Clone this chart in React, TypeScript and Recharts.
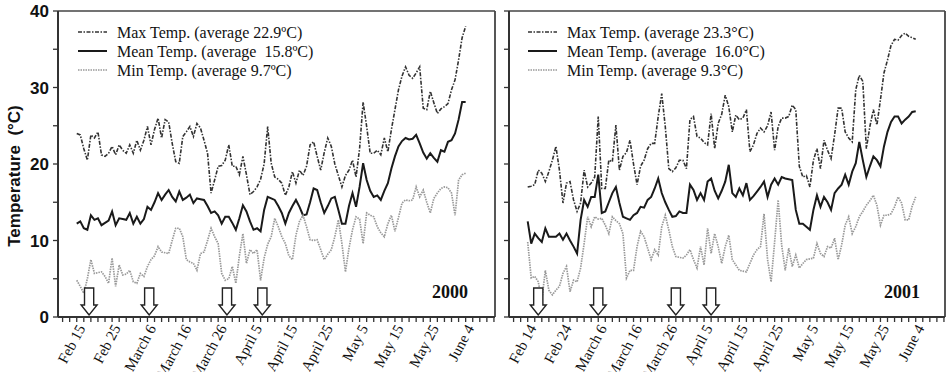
import {
  ComposedChart,
  Line,
  XAxis,
  YAxis,
  Scatter,
  ReferenceLine,
  Legend,
  Customized,
} from "recharts";

// daily values, day 0 = first date on the axis
const MAX_2000 = [
  24.0, 23.8, 22.0, 20.5, 23.8, 23.4, 24.2, 21.2, 21.0, 21.4,
  22.3, 21.2, 22.5, 21.8, 21.4, 22.5, 21.4, 23.1, 21.8, 23.1,
  24.9, 22.5, 24.5, 26.0, 23.4, 25.8, 25.5, 22.7, 20.3, 20.1,
  23.6, 24.2, 24.9, 23.6, 25.3, 24.7, 23.1, 21.4, 16.2, 17.9,
  19.7, 19.8, 20.5, 22.5, 19.7, 19.7, 18.6, 21.0, 18.6, 16.0,
  16.4, 17.0, 18.0, 20.0, 24.9, 20.1, 18.3, 18.0, 17.5, 15.9,
  17.0, 19.0, 17.5, 19.2, 18.5, 19.7, 22.5, 22.9, 21.0, 19.2,
  21.5, 23.4, 22.3, 20.0, 18.5, 17.0, 18.5, 19.2, 20.5, 18.3,
  22.0, 28.1, 24.9, 21.4, 21.4, 21.8, 21.2, 23.4, 21.6, 24.5,
  27.1, 29.7, 31.5, 32.7, 31.6, 31.2, 31.9, 32.7, 27.3, 27.1,
  29.5, 28.0, 26.6, 27.2, 27.5, 27.9, 29.7, 31.0, 33.6, 36.5, 38.0,
];
const MEAN_2000 = [
  12.2, 12.5, 11.6, 11.4, 13.3, 12.7, 12.9, 12.0, 12.3, 12.6,
  13.8, 12.0, 12.9, 12.8, 12.7, 13.6, 12.2, 13.1, 12.2, 12.8,
  14.4, 14.0, 15.0, 16.2, 15.3, 16.0, 16.6, 15.7, 15.1, 16.4,
  15.3, 15.6, 16.0, 14.9, 15.5, 15.4, 15.3, 14.5, 13.6, 13.8,
  13.3, 12.2, 13.1, 13.1, 12.3, 11.4, 12.9, 14.6, 13.8, 12.5,
  11.4, 11.6, 11.2, 14.0, 15.7, 15.5, 15.3, 14.5, 13.6, 12.2,
  13.6, 14.5, 15.3, 14.4, 13.3, 13.4, 15.0, 16.8, 16.6, 15.0,
  13.6, 14.5, 15.5, 15.7, 14.0, 12.2, 12.2, 14.5, 16.2, 14.4,
  17.0, 20.1, 17.9, 16.5, 15.7, 15.9, 15.3, 16.5, 17.5, 19.4,
  21.0, 22.3, 23.0, 23.4, 23.2, 23.3, 23.8, 22.7, 21.5, 20.7,
  21.4, 20.8, 20.3, 21.8, 21.6, 22.9, 23.1, 24.0, 25.8, 28.1, 28.1,
];
const MIN_2000 = [
  4.8, 4.0, 3.1, 5.0, 7.5, 5.7, 5.8, 5.9, 5.3, 4.4,
  7.7, 4.0, 6.8, 5.5, 5.6, 6.1, 4.6, 4.4, 5.7, 5.3,
  6.6, 7.5, 8.0, 9.2, 8.5, 8.4, 8.3, 10.0, 11.6, 11.6,
  10.5, 7.5, 7.2, 7.0, 6.1, 8.3, 8.5, 10.0, 11.6, 10.5,
  9.6, 5.7, 4.8, 5.0, 6.6, 4.4, 8.0, 10.9, 7.0, 8.8,
  8.3, 8.8, 4.8, 7.7, 9.5, 10.5, 12.9, 11.8, 10.5, 9.6,
  8.0, 7.5, 10.7, 12.5, 13.3, 11.8, 10.1, 10.0, 10.1, 8.8,
  7.5, 8.2, 8.8, 10.5, 12.7, 9.6, 5.9, 9.0, 11.4, 13.1,
  12.8, 9.6, 13.6, 13.3, 13.1, 11.8, 11.0, 10.5, 12.2, 13.3,
  11.2, 13.0, 14.9, 15.3, 15.2, 15.3, 17.0, 15.7, 16.6, 15.0,
  13.6, 15.5, 16.2, 16.8, 17.0, 16.9, 16.2, 13.3, 17.9, 18.6, 18.8,
];

const MAX_2001 = [
  17.0, 17.1, 17.3, 19.2, 18.8, 17.7, 19.0, 20.5, 22.3, 19.2,
  14.9, 17.5, 17.7, 15.3, 13.8, 14.9, 19.2, 17.0, 17.5, 18.3,
  26.2, 16.8, 16.8, 20.5, 20.3, 25.1, 19.2, 21.0, 21.5, 23.1,
  20.0, 17.3, 19.7, 20.5, 22.0, 22.7, 22.7, 26.2, 29.2, 24.9,
  19.4, 19.0, 19.5, 20.5, 20.5, 19.4, 25.8, 26.2, 23.6, 23.4,
  22.8, 22.5, 26.6, 22.0, 25.3, 26.5, 29.0, 27.5, 24.2, 26.4,
  25.8, 26.0, 27.1, 21.6, 22.5, 24.0, 24.7, 24.2, 25.0, 26.8,
  21.8, 24.9, 26.0, 26.0, 26.2, 27.7, 27.1, 19.7, 18.3, 18.5,
  17.0, 20.5, 22.0, 19.4, 23.1, 21.8, 20.7, 23.8, 27.3, 27.3,
  24.2, 23.4, 22.9, 29.7, 31.6, 30.8, 22.0, 24.9, 27.1, 25.1,
  28.4, 31.9, 33.6, 35.5, 36.3, 36.2, 36.8, 37.1, 36.7, 36.5, 36.3,
];
const MEAN_2001 = [
  12.5, 9.6, 10.9, 10.3, 9.8, 11.6, 10.5, 10.5, 10.5, 10.9,
  10.1, 10.9, 10.0, 9.2, 8.3, 12.7, 15.3, 14.4, 15.7, 15.7,
  18.6, 13.6, 13.8, 15.0, 16.2, 17.0, 14.9, 13.1, 12.9, 12.7,
  13.3, 13.6, 14.4, 14.3, 15.3, 15.7, 16.8, 18.1, 16.2, 15.0,
  14.0, 13.1, 13.2, 13.8, 13.6, 13.6, 17.3, 16.6, 15.3, 16.2,
  15.3, 17.7, 18.1, 16.5, 15.5, 16.5, 17.7, 19.9, 16.2, 15.7,
  16.8, 15.9, 17.5, 15.3, 15.8, 16.4, 17.0, 17.7, 15.7, 17.3,
  18.1, 17.3, 18.3, 18.1, 18.0, 17.9, 14.0, 12.2, 12.2, 11.8,
  11.4, 14.0, 15.9, 14.4, 15.7, 15.0, 14.0, 16.2, 16.8, 17.3,
  18.6, 17.3, 19.0, 20.1, 22.9, 20.5, 18.3, 19.7, 21.0, 20.5,
  19.7, 22.3, 24.2, 25.5, 26.2, 26.2, 25.3, 25.8, 26.2, 26.8, 26.9,
];
const MIN_2001 = [
  9.8, 5.1, 5.3, 4.6, 2.2, 6.1, 3.5, 2.9, 3.5, 4.0,
  5.7, 6.6, 3.3, 4.8, 4.6, 6.4, 9.6, 13.1, 11.8, 13.1,
  12.8, 12.9, 12.0, 10.9, 13.1, 12.6, 12.2, 10.9, 5.1, 6.1,
  6.1, 9.2, 11.2, 10.5, 9.0, 7.5, 8.8, 8.1, 11.8, 13.3,
  11.4, 9.2, 7.9, 7.8, 7.7, 8.1, 8.8, 7.5, 6.4, 9.2,
  6.8, 11.6, 8.3, 10.9, 9.2, 7.0, 9.2, 10.7, 7.5, 6.8,
  6.1, 6.0, 5.9, 7.0, 8.1, 8.8, 9.2, 13.5, 7.5, 4.6,
  9.8, 15.3, 9.4, 6.1, 9.0, 6.6, 8.1, 6.4, 7.0, 7.5,
  7.6, 7.7, 9.6, 8.3, 7.9, 9.2, 9.0, 10.3, 7.5, 9.4,
  12.0, 13.1, 10.9, 11.8, 13.1, 13.8, 14.6, 15.2, 15.9, 14.6,
  12.0, 13.3, 13.3, 13.5, 14.4, 15.7, 14.9, 12.7, 12.7, 14.5, 15.7,
];

// date labels every 10 days
const LABELS_2000 = [
  "Feb 15", "Feb 25", "March 6", "March 16", "March 26", "April 5",
  "April 15", "April 25", "May 5", "May 15", "May 25", "June 4",
];
const LABELS_2001 = [
  "Feb 14", "Feb 24", "March 6", "March 16", "March 26", "April 5",
  "April 15", "April 25", "May 5", "May 15", "May 25", "June 4",
];

// arrow positions (day index)
const ARROWS_2000 = [3.5, 20.5, 42.5, 52.5];
const ARROWS_2001 = [3, 20, 42, 52];

const LEGEND_2000 = [
  "Max Temp. (average 22.9ºC)",
  "Mean Temp. (average  15.8ºC)",
  "Min Temp. (average 9.7ºC)",
];
const LEGEND_2001 = [
  "Max Temp. (average 23.3°C)",
  "Mean Temp. (average  16.0°C)",
  "Min Temp. (average 9.3°C)",
];

const X_DOMAIN: [number, number] = [-5.3, 118.3];
const X_TICKS = Array.from({ length: 62 }, (_, i) => -4 + i * 2);
const Y_TICKS = [0, 5, 10, 15, 20, 25, 30, 35, 40];

const SERIF = "'Liberation Serif', 'Times New Roman', serif";
const SANS = "'Liberation Sans', Arial, sans-serif";

const STYLES = [
  { stroke: "#333", strokeWidth: 1.6, strokeDasharray: "4 1.5 1.5 1.5" },
  { stroke: "#1a1a1a", strokeWidth: 2 },
  { stroke: "#999", strokeWidth: 1.7, strokeDasharray: "1.5 1" },
];

function DayTick(props: any) {
  const { x, y, payload, labels } = props;
  const v = payload.value;
  const label = v >= 0 && v % 10 === 0 ? labels[v / 10] : null;
  const ax = x + 9;
  const ay = y + 11;
  return (
    <g>
      <line x1={x} x2={x} y1={y} y2={y + 5} stroke="#333" strokeWidth={1.3} />
      {label && (
        <text
          x={ax}
          y={ay}
          transform={`rotate(-62, ${ax}, ${ay})`}
          textAnchor="end"
          fontFamily={SERIF}
          fontSize={15}
          fill="#111"
        >
          {label}
        </text>
      )}
    </g>
  );
}

function Arrow(props: any) {
  const { cx, cy } = props;
  const t = cy - 2;
  const pts = [
    [cx, t],
    [cx - 8, t - 10],
    [cx - 4.6, t - 10],
    [cx - 4.6, t - 27],
    [cx + 4.6, t - 27],
    [cx + 4.6, t - 10],
    [cx + 8, t - 10],
  ]
    .map((p) => p.join(","))
    .join(" ");
  return <polygon points={pts} fill="#fff" stroke="#222" strokeWidth={1.4} />;
}

function LegendBox({ items }: { items: string[] }) {
  return (
    <svg width={280} height={60}>
      {items.map((t, i) => (
        <g key={i}>
          <line x1={8} x2={37} y1={10 + i * 19} y2={10 + i * 19} {...STYLES[i]} />
          <text
            x={47}
            y={10 + i * 19}
            dy="0.35em"
            fontFamily={SERIF}
            fontSize={16}
            fill="#111"
            style={{ whiteSpace: "pre" }}
          >
            {t}
          </text>
        </g>
      ))}
    </svg>
  );
}

function Panel(props: any) {
  const { left, width, yWidth, marginRight, showYLabels, labels, max, mean, min, arrows, legend, legendLeft, year, yearX } = props;
  const rows = max.map((v: number, i: number) => ({ day: i, max: v, mean: mean[i], min: min[i] }));
  const arrowRows = arrows.map((d: number) => ({ day: d, y: 0 }));

  return (
    <div style={{ position: "absolute", left, top: 0 }}>
      <ComposedChart
        width={width}
        height={372}
        data={rows}
        margin={{ top: 11, right: marginRight, bottom: 0, left: 0 }}
      >
        <XAxis
          dataKey="day"
          type="number"
          domain={X_DOMAIN}
          allowDataOverflow
          ticks={X_TICKS}
          interval={0}
          height={55}
          tickSize={0}
          tickMargin={0}
          tickLine={false}
          axisLine={{ stroke: "#333", strokeWidth: 2 }}
          tick={(p: any) => <DayTick {...p} labels={labels} />}
        />
        <YAxis
          domain={[0, 40]}
          ticks={Y_TICKS}
          interval={0}
          width={yWidth}
          tickSize={5}
          tickMargin={4}
          axisLine={{ stroke: "#333", strokeWidth: 2 }}
          tickLine={{ stroke: "#333", strokeWidth: 1.3 }}
          tickFormatter={(v: number) => (showYLabels && v % 10 === 0 ? String(v) : "")}
          tick={{ fontFamily: SANS, fontWeight: "bold", fontSize: 17, fill: "#111" }}
        />
        <ReferenceLine y={40} stroke="#444" strokeWidth={1.6} />
        <ReferenceLine x={X_DOMAIN[1]} stroke="#444" strokeWidth={1.8} />
        <Line dataKey="max" type="linear" dot={false} isAnimationActive={false} {...STYLES[0]} />
        <Line dataKey="mean" type="linear" dot={false} isAnimationActive={false} {...STYLES[1]} />
        <Line dataKey="min" type="linear" dot={false} isAnimationActive={false} {...STYLES[2]} />
        <Scatter data={arrowRows} dataKey="y" shape={Arrow} isAnimationActive={false} legendType="none" />
        <Legend
          layout="vertical"
          align="center"
          verticalAlign="middle"
          content={() => <LegendBox items={legend} />}
          wrapperStyle={{ left: legendLeft, top: 22, width: 280, height: 60 }}
        />
        <Customized
          component={() => (
            <g>
              <text
                x={yearX}
                y={298}
                textAnchor="end"
                fontFamily={SERIF}
                fontWeight="bold"
                fontSize={18}
                fill="#111"
              >
                {year}
              </text>
              {showYLabels && (
                <text
                  x={20}
                  y={176}
                  transform="rotate(-90, 20, 176)"
                  textAnchor="middle"
                  fontFamily={SANS}
                  fontWeight="bold"
                  fontSize={17}
                  fill="#111"
                  style={{ whiteSpace: "pre" }}
                >
                  {"Temperature  (°C)"}
                </text>
              )}
            </g>
          )}
        />
      </ComposedChart>
    </div>
  );
}

export default function App() {
  return (
    <div style={{ position: "absolute", left: 0, top: 0, width: 947, height: 372, background: "#fff", overflow: "hidden" }}>
      <Panel
        left={0}
        width={500}
        yWidth={58}
        marginRight={5}
        showYLabels
        labels={LABELS_2000}
        max={MAX_2000}
        mean={MEAN_2000}
        min={MIN_2000}
        arrows={ARROWS_2000}
        legend={LEGEND_2000}
        legendLeft={70}
        year="2000"
        yearX={468}
      />
      <Panel
        left={500}
        width={447}
        yWidth={9}
        marginRight={2}
        showYLabels={false}
        labels={LABELS_2001}
        max={MAX_2001}
        mean={MEAN_2001}
        min={MIN_2001}
        arrows={ARROWS_2001}
        legend={LEGEND_2001}
        legendLeft={20}
        year="2001"
        yearX={420}
      />
    </div>
  );
}
